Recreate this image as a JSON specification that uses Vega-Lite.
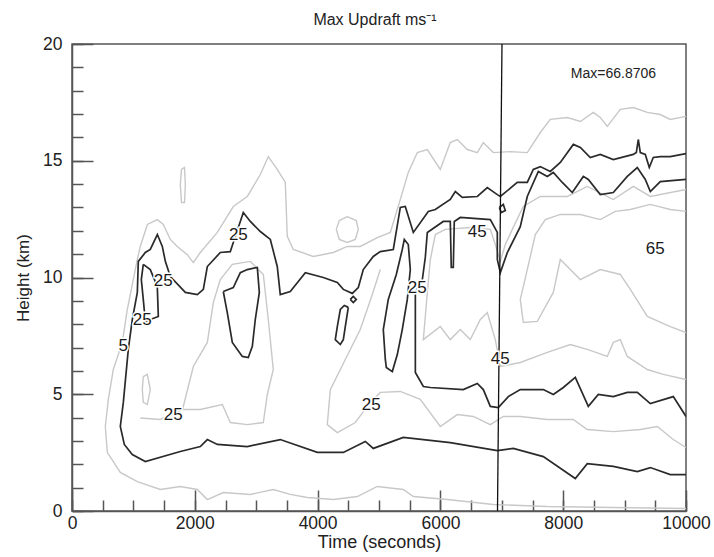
{
  "$schema": "https://vega.github.io/schema/vega-lite/v6.json",
  "width": 614,
  "height": 467,
  "autosize": {"type": "none"},
  "padding": {"left": 72, "top": 44, "right": 28, "bottom": 46},
  "background": "white",
  "title": {"text": "Max Updraft ms⁻¹", "fontSize": 16, "fontWeight": "normal", "font": "Liberation Sans", "color": "#222", "offset": 7, "dx": -4},
  "resolve": {"axis": {"x": "independent", "y": "independent"}},
  "config": {
    "view": {"stroke": "#555", "strokeWidth": 1.5},
    "axis": {"domainColor": "#555", "domainWidth": 1.5, "tickColor": "#555", "tickWidth": 1.5, "labelFont": "Liberation Sans", "titleFont": "Liberation Sans", "labelColor": "#222", "titleColor": "#222", "labelFontSize": 17.5, "titleFontSize": 17, "titleFontWeight": "normal", "grid": false}
  },
  "datasets": {
    "lines": [
      {"id":"c5","k":"b","o":1,"t":10000,"h":15.31},{"id":"c5","k":"b","o":2,"t":9744,"h":15.18},{"id":"c5","k":"b","o":3,"t":9581,"h":15.18},{"id":"c5","k":"b","o":4,"t":9467,"h":15.14},{"id":"c5","k":"b","o":5,"t":9402,"h":14.71},{"id":"c5","k":"b","o":6,"t":9337,"h":15.27},{"id":"c5","k":"b","o":7,"t":9256,"h":15.35},{"id":"c5","k":"b","o":8,"t":9223,"h":15.91},{"id":"c5","k":"b","o":9,"t":9191,"h":15.35},{"id":"c5","k":"b","o":10,"t":9142,"h":15.27},
      {"id":"c5","k":"b","o":11,"t":8816,"h":15.05},{"id":"c5","k":"b","o":12,"t":8604,"h":15.27},{"id":"c5","k":"b","o":13,"t":8441,"h":15.14},{"id":"c5","k":"b","o":14,"t":8279,"h":15.57},{"id":"c5","k":"b","o":15,"t":8165,"h":15.70},{"id":"c5","k":"b","o":16,"t":7953,"h":14.93},{"id":"c5","k":"b","o":17,"t":7790,"h":14.54},{"id":"c5","k":"b","o":18,"t":7627,"h":14.75},{"id":"c5","k":"b","o":19,"t":7513,"h":14.63},{"id":"c5","k":"b","o":20,"t":7415,"h":14.07},
      {"id":"c5","k":"b","o":21,"t":7252,"h":14.07},{"id":"c5","k":"b","o":22,"t":6976,"h":13.47},{"id":"c5","k":"b","o":23,"t":6927,"h":13.55},{"id":"c5","k":"b","o":24,"t":6764,"h":13.85},{"id":"c5","k":"b","o":25,"t":6601,"h":13.47},{"id":"c5","k":"b","o":26,"t":6357,"h":13.43},{"id":"c5","k":"b","o":27,"t":6243,"h":13.68},{"id":"c5","k":"b","o":28,"t":6161,"h":13.34},{"id":"c5","k":"b","o":29,"t":5917,"h":12.91},{"id":"c5","k":"b","o":30,"t":5803,"h":12.83},
      {"id":"c5","k":"b","o":31,"t":5559,"h":11.93},{"id":"c5","k":"b","o":32,"t":5428,"h":13.04},{"id":"c5","k":"b","o":33,"t":5347,"h":13.00},{"id":"c5","k":"b","o":34,"t":5233,"h":11.20},{"id":"c5","k":"b","o":35,"t":5021,"h":11.11},{"id":"c5","k":"b","o":36,"t":4907,"h":10.90},{"id":"c5","k":"b","o":37,"t":4744,"h":10.34},{"id":"c5","k":"b","o":38,"t":4663,"h":9.57},{"id":"c5","k":"b","o":39,"t":4565,"h":9.32},{"id":"c5","k":"b","o":40,"t":4419,"h":9.49},
      {"id":"c5","k":"b","o":41,"t":4321,"h":9.79},{"id":"c5","k":"b","o":42,"t":4093,"h":10.00},{"id":"c5","k":"b","o":43,"t":3800,"h":10.21},{"id":"c5","k":"b","o":44,"t":3555,"h":9.40},{"id":"c5","k":"b","o":45,"t":3392,"h":9.27},{"id":"c5","k":"b","o":46,"t":3343,"h":10.47},{"id":"c5","k":"b","o":47,"t":3230,"h":11.63},{"id":"c5","k":"b","o":48,"t":3067,"h":11.97},{"id":"c5","k":"b","o":49,"t":2904,"h":12.40},{"id":"c5","k":"b","o":50,"t":2790,"h":12.78},
      {"id":"c5","k":"b","o":51,"t":2709,"h":12.14},{"id":"c5","k":"b","o":52,"t":2627,"h":11.50},{"id":"c5","k":"b","o":53,"t":2578,"h":11.11},{"id":"c5","k":"b","o":54,"t":2415,"h":11.07},{"id":"c5","k":"b","o":55,"t":2204,"h":10.47},{"id":"c5","k":"b","o":56,"t":2139,"h":9.49},{"id":"c5","k":"b","o":57,"t":2041,"h":9.27},{"id":"c5","k":"b","o":58,"t":1846,"h":9.36},{"id":"c5","k":"b","o":59,"t":1601,"h":10.04},{"id":"c5","k":"b","o":60,"t":1520,"h":10.69},
      {"id":"c5","k":"b","o":61,"t":1471,"h":11.33},{"id":"c5","k":"b","o":62,"t":1390,"h":11.84},{"id":"c5","k":"b","o":63,"t":1275,"h":11.20},{"id":"c5","k":"b","o":64,"t":1194,"h":11.07},{"id":"c5","k":"b","o":65,"t":1080,"h":10.69},{"id":"c5","k":"b","o":66,"t":1064,"h":9.36},{"id":"c5","k":"b","o":67,"t":982,"h":8.20},{"id":"c5","k":"b","o":68,"t":917,"h":6.92},{"id":"c5","k":"b","o":69,"t":836,"h":4.65},{"id":"c5","k":"b","o":70,"t":787,"h":3.62},
      {"id":"c5","k":"b","o":71,"t":852,"h":2.85},{"id":"c5","k":"b","o":72,"t":982,"h":2.42},{"id":"c5","k":"b","o":73,"t":1194,"h":2.12},{"id":"c5","k":"b","o":74,"t":1764,"h":2.55},{"id":"c5","k":"b","o":75,"t":2090,"h":2.76},{"id":"c5","k":"b","o":76,"t":2204,"h":3.06},{"id":"c5","k":"b","o":77,"t":2367,"h":2.85},{"id":"c5","k":"b","o":78,"t":2855,"h":2.76},{"id":"c5","k":"b","o":79,"t":3392,"h":3.06},{"id":"c5","k":"b","o":80,"t":3995,"h":2.51},
      {"id":"c5","k":"b","o":81,"t":4419,"h":2.51},{"id":"c5","k":"b","o":82,"t":4777,"h":2.98},{"id":"c5","k":"b","o":83,"t":4907,"h":2.68},{"id":"c5","k":"b","o":84,"t":5396,"h":3.15},{"id":"c5","k":"b","o":85,"t":6161,"h":2.93},{"id":"c5","k":"b","o":86,"t":6927,"h":2.59},{"id":"c5","k":"b","o":87,"t":7187,"h":2.68},{"id":"c5","k":"b","o":88,"t":7676,"h":2.33},{"id":"c5","k":"b","o":89,"t":8197,"h":1.39},{"id":"c5","k":"b","o":90,"t":8392,"h":2.03},
      {"id":"c5","k":"b","o":91,"t":8816,"h":1.91},{"id":"c5","k":"b","o":92,"t":9207,"h":1.69},{"id":"c5","k":"b","o":93,"t":9419,"h":1.86},{"id":"c5","k":"b","o":94,"t":9744,"h":1.56},{"id":"c5","k":"b","o":95,"t":10000,"h":1.56},

      {"id":"c45","k":"b","o":1,"t":10000,"h":14.20},{"id":"c45","k":"b","o":2,"t":9581,"h":14.11},{"id":"c45","k":"b","o":3,"t":9419,"h":13.68},{"id":"c45","k":"b","o":4,"t":9337,"h":14.20},{"id":"c45","k":"b","o":5,"t":9207,"h":14.71},{"id":"c45","k":"b","o":6,"t":9044,"h":14.33},{"id":"c45","k":"b","o":7,"t":8816,"h":13.64},{"id":"c45","k":"b","o":8,"t":8604,"h":13.55},{"id":"c45","k":"b","o":9,"t":8409,"h":14.20},{"id":"c45","k":"b","o":10,"t":8328,"h":14.33},
      {"id":"c45","k":"b","o":11,"t":8148,"h":13.64},{"id":"c45","k":"b","o":12,"t":7985,"h":14.07},{"id":"c45","k":"b","o":13,"t":7839,"h":14.50},{"id":"c45","k":"b","o":14,"t":7741,"h":14.33},{"id":"c45","k":"b","o":15,"t":7595,"h":14.54},{"id":"c45","k":"b","o":16,"t":7415,"h":13.47},{"id":"c45","k":"b","o":17,"t":7301,"h":12.18},{"id":"c45","k":"b","o":18,"t":7090,"h":11.07},{"id":"c45","k":"b","o":19,"t":6976,"h":10.21},{"id":"c45","k":"b","o":20,"t":6927,"h":10.77},
      {"id":"c45","k":"b","o":21,"t":6927,"h":11.93},{"id":"c45","k":"b","o":22,"t":6813,"h":12.48},{"id":"c45","k":"b","o":23,"t":6324,"h":12.57},{"id":"c45","k":"b","o":24,"t":6226,"h":12.40},{"id":"c45","k":"b","o":25,"t":6210,"h":10.43},{"id":"c45","k":"b","o":26,"t":6177,"h":10.43},{"id":"c45","k":"b","o":27,"t":6161,"h":12.40},{"id":"c45","k":"b","o":28,"t":6047,"h":12.40},{"id":"c45","k":"b","o":29,"t":5787,"h":11.93},{"id":"c45","k":"b","o":30,"t":5754,"h":10.86},
      {"id":"c45","k":"b","o":31,"t":5706,"h":9.91},{"id":"c45","k":"b","o":32,"t":5592,"h":9.36},{"id":"c45","k":"b","o":33,"t":5592,"h":5.93},{"id":"c45","k":"b","o":34,"t":5722,"h":5.33},{"id":"c45","k":"b","o":35,"t":5836,"h":5.29},{"id":"c45","k":"b","o":36,"t":6373,"h":5.20},{"id":"c45","k":"b","o":37,"t":6601,"h":5.46},{"id":"c45","k":"b","o":38,"t":6699,"h":5.20},{"id":"c45","k":"b","o":39,"t":6813,"h":4.48},{"id":"c45","k":"b","o":40,"t":6943,"h":4.43},
      {"id":"c45","k":"b","o":41,"t":7106,"h":4.90},{"id":"c45","k":"b","o":42,"t":7301,"h":5.20},{"id":"c45","k":"b","o":43,"t":7676,"h":5.20},{"id":"c45","k":"b","o":44,"t":7839,"h":4.99},{"id":"c45","k":"b","o":45,"t":8002,"h":5.29},{"id":"c45","k":"b","o":46,"t":8197,"h":5.72},{"id":"c45","k":"b","o":47,"t":8409,"h":4.48},{"id":"c45","k":"b","o":48,"t":8572,"h":4.99},{"id":"c45","k":"b","o":49,"t":8816,"h":4.90},{"id":"c45","k":"b","o":50,"t":9044,"h":5.08},
      {"id":"c45","k":"b","o":51,"t":9207,"h":5.08},{"id":"c45","k":"b","o":52,"t":9419,"h":4.60},{"id":"c45","k":"b","o":53,"t":9793,"h":4.90},{"id":"c45","k":"b","o":54,"t":10000,"h":4.05},

      {"id":"blob","k":"b","o":1,"t":2464,"h":9.40},{"id":"blob","k":"b","o":2,"t":2627,"h":9.57},{"id":"blob","k":"b","o":3,"t":2741,"h":10.21},{"id":"blob","k":"b","o":4,"t":2855,"h":10.34},{"id":"blob","k":"b","o":5,"t":3018,"h":10.43},{"id":"blob","k":"b","o":6,"t":3051,"h":9.36},{"id":"blob","k":"b","o":7,"t":2985,"h":8.20},{"id":"blob","k":"b","o":8,"t":2937,"h":7.05},{"id":"blob","k":"b","o":9,"t":2871,"h":6.57},{"id":"blob","k":"b","o":10,"t":2774,"h":6.62},{"id":"blob","k":"b","o":11,"t":2611,"h":7.22},{"id":"blob","k":"b","o":12,"t":2529,"h":8.50},{"id":"blob","k":"b","o":13,"t":2464,"h":9.40},

      {"id":"lb","k":"b","o":1,"t":1161,"h":10.56},{"id":"lb","k":"b","o":2,"t":1275,"h":10.34},{"id":"lb","k":"b","o":3,"t":1389,"h":9.62},{"id":"lb","k":"b","o":4,"t":1406,"h":8.33},{"id":"lb","k":"b","o":5,"t":1275,"h":8.20},{"id":"lb","k":"b","o":6,"t":1194,"h":8.12},{"id":"lb","k":"b","o":7,"t":1161,"h":9.06},{"id":"lb","k":"b","o":8,"t":1129,"h":9.91},{"id":"lb","k":"b","o":9,"t":1161,"h":10.56},

      {"id":"lc","k":"b","o":1,"t":4500,"h":8.72},{"id":"lc","k":"b","o":2,"t":4451,"h":7.90},{"id":"lc","k":"b","o":3,"t":4419,"h":7.34},{"id":"lc","k":"b","o":4,"t":4370,"h":7.13},{"id":"lc","k":"b","o":5,"t":4288,"h":7.34},{"id":"lc","k":"b","o":6,"t":4321,"h":7.90},{"id":"lc","k":"b","o":7,"t":4370,"h":8.63},{"id":"lc","k":"b","o":8,"t":4435,"h":8.80},{"id":"lc","k":"b","o":9,"t":4500,"h":8.72},

      {"id":"cir","k":"b","o":1,"t":4532,"h":9.06},{"id":"cir","k":"b","o":2,"t":4581,"h":9.19},{"id":"cir","k":"b","o":3,"t":4630,"h":9.06},{"id":"cir","k":"b","o":4,"t":4581,"h":8.93},{"id":"cir","k":"b","o":5,"t":4532,"h":9.06},

      {"id":"ld","k":"b","o":1,"t":5103,"h":6.49},{"id":"ld","k":"b","o":2,"t":5070,"h":7.77},{"id":"ld","k":"b","o":3,"t":5151,"h":9.06},{"id":"ld","k":"b","o":4,"t":5282,"h":10.13},{"id":"ld","k":"b","o":5,"t":5379,"h":11.20},{"id":"ld","k":"b","o":6,"t":5412,"h":11.63},{"id":"ld","k":"b","o":7,"t":5477,"h":11.41},{"id":"ld","k":"b","o":8,"t":5510,"h":10.34},{"id":"ld","k":"b","o":9,"t":5461,"h":9.06},{"id":"ld","k":"b","o":10,"t":5379,"h":7.77},{"id":"ld","k":"b","o":11,"t":5298,"h":6.70},{"id":"ld","k":"b","o":12,"t":5217,"h":5.97},{"id":"ld","k":"b","o":13,"t":5119,"h":6.15},{"id":"ld","k":"b","o":14,"t":5103,"h":6.49},

      {"id":"le","k":"b","o":1,"t":6960,"h":13.00},{"id":"le","k":"b","o":2,"t":7025,"h":13.13},{"id":"le","k":"b","o":3,"t":7057,"h":12.87},{"id":"le","k":"b","o":4,"t":6992,"h":12.78},{"id":"le","k":"b","o":5,"t":6960,"h":13.00},

      {"id":"g1","k":"g","o":1,"t":10000,"h":16.90},{"id":"g1","k":"g","o":2,"t":9744,"h":16.77},{"id":"g1","k":"g","o":3,"t":9581,"h":16.98},{"id":"g1","k":"g","o":4,"t":9370,"h":17.07},{"id":"g1","k":"g","o":5,"t":9142,"h":17.28},{"id":"g1","k":"g","o":6,"t":8930,"h":17.20},{"id":"g1","k":"g","o":7,"t":8718,"h":16.47},{"id":"g1","k":"g","o":8,"t":8604,"h":16.85},{"id":"g1","k":"g","o":9,"t":8490,"h":17.07},{"id":"g1","k":"g","o":10,"t":8279,"h":16.68},
      {"id":"g1","k":"g","o":11,"t":8067,"h":16.85},{"id":"g1","k":"g","o":12,"t":7790,"h":16.77},{"id":"g1","k":"g","o":13,"t":7627,"h":16.21},{"id":"g1","k":"g","o":14,"t":7415,"h":15.35},{"id":"g1","k":"g","o":15,"t":7139,"h":15.39},{"id":"g1","k":"g","o":16,"t":6862,"h":15.35},{"id":"g1","k":"g","o":17,"t":6699,"h":15.78},{"id":"g1","k":"g","o":18,"t":6601,"h":15.35},{"id":"g1","k":"g","o":19,"t":6438,"h":15.48},{"id":"g1","k":"g","o":20,"t":6275,"h":15.91},
      {"id":"g1","k":"g","o":21,"t":6161,"h":15.78},{"id":"g1","k":"g","o":22,"t":5998,"h":14.63},{"id":"g1","k":"g","o":23,"t":5787,"h":15.48},{"id":"g1","k":"g","o":24,"t":5624,"h":15.35},{"id":"g1","k":"g","o":25,"t":5477,"h":14.50},{"id":"g1","k":"g","o":26,"t":5347,"h":13.34},{"id":"g1","k":"g","o":27,"t":5184,"h":11.93},{"id":"g1","k":"g","o":28,"t":4972,"h":11.71},{"id":"g1","k":"g","o":29,"t":4695,"h":11.33},{"id":"g1","k":"g","o":30,"t":4484,"h":11.33},
      {"id":"g1","k":"g","o":31,"t":4256,"h":11.07},{"id":"g1","k":"g","o":32,"t":3930,"h":10.90},{"id":"g1","k":"g","o":33,"t":3604,"h":11.20},{"id":"g1","k":"g","o":34,"t":3506,"h":11.76},{"id":"g1","k":"g","o":35,"t":3474,"h":14.07},{"id":"g1","k":"g","o":36,"t":3343,"h":14.63},{"id":"g1","k":"g","o":37,"t":3197,"h":15.18},{"id":"g1","k":"g","o":38,"t":3067,"h":14.41},{"id":"g1","k":"g","o":39,"t":2855,"h":13.47},{"id":"g1","k":"g","o":40,"t":2627,"h":13.04},
      {"id":"g1","k":"g","o":41,"t":2367,"h":11.93},{"id":"g1","k":"g","o":42,"t":2090,"h":11.07},{"id":"g1","k":"g","o":43,"t":1976,"h":10.64},{"id":"g1","k":"g","o":44,"t":1878,"h":10.98},{"id":"g1","k":"g","o":45,"t":1715,"h":11.33},{"id":"g1","k":"g","o":46,"t":1601,"h":11.63},{"id":"g1","k":"g","o":47,"t":1487,"h":12.27},{"id":"g1","k":"g","o":48,"t":1390,"h":12.48},{"id":"g1","k":"g","o":49,"t":1227,"h":12.27},{"id":"g1","k":"g","o":50,"t":1112,"h":11.33},
      {"id":"g1","k":"g","o":51,"t":1064,"h":10.77},{"id":"g1","k":"g","o":52,"t":998,"h":9.91},{"id":"g1","k":"g","o":53,"t":901,"h":8.63},{"id":"g1","k":"g","o":54,"t":819,"h":7.22},{"id":"g1","k":"g","o":55,"t":673,"h":6.06},{"id":"g1","k":"g","o":56,"t":592,"h":4.78},{"id":"g1","k":"g","o":57,"t":543,"h":3.62},{"id":"g1","k":"g","o":58,"t":575,"h":2.51},{"id":"g1","k":"g","o":59,"t":787,"h":1.65},{"id":"g1","k":"g","o":60,"t":1064,"h":1.26},
      {"id":"g1","k":"g","o":61,"t":1438,"h":0.92},{"id":"g1","k":"g","o":62,"t":1764,"h":1.05},{"id":"g1","k":"g","o":63,"t":2041,"h":0.92},{"id":"g1","k":"g","o":64,"t":2204,"h":0.49},{"id":"g1","k":"g","o":65,"t":2464,"h":0.79},{"id":"g1","k":"g","o":66,"t":2904,"h":0.71},{"id":"g1","k":"g","o":67,"t":3278,"h":0.92},{"id":"g1","k":"g","o":68,"t":3555,"h":0.71},{"id":"g1","k":"g","o":69,"t":3832,"h":0.58},{"id":"g1","k":"g","o":70,"t":4256,"h":0.49},
      {"id":"g1","k":"g","o":71,"t":4647,"h":0.62},{"id":"g1","k":"g","o":72,"t":4972,"h":1.05},{"id":"g1","k":"g","o":73,"t":5396,"h":0.92},{"id":"g1","k":"g","o":74,"t":5559,"h":0.62},{"id":"g1","k":"g","o":75,"t":6112,"h":0.49},{"id":"g1","k":"g","o":76,"t":6862,"h":0.28},{"id":"g1","k":"g","o":77,"t":7741,"h":0.19},{"id":"g1","k":"g","o":78,"t":8816,"h":0.15},{"id":"g1","k":"g","o":79,"t":10000,"h":0.11},

      {"id":"l1","k":"g","o":1,"t":1783,"h":14.63},{"id":"l1","k":"g","o":2,"t":1832,"h":14.71},{"id":"l1","k":"g","o":3,"t":1846,"h":13.98},{"id":"l1","k":"g","o":4,"t":1832,"h":13.21},{"id":"l1","k":"g","o":5,"t":1783,"h":13.21},{"id":"l1","k":"g","o":6,"t":1764,"h":13.98},{"id":"l1","k":"g","o":7,"t":1783,"h":14.63},

      {"id":"l2","k":"g","o":1,"t":4484,"h":12.61},{"id":"l2","k":"g","o":2,"t":4630,"h":12.44},{"id":"l2","k":"g","o":3,"t":4663,"h":12.06},{"id":"l2","k":"g","o":4,"t":4614,"h":11.63},{"id":"l2","k":"g","o":5,"t":4484,"h":11.50},{"id":"l2","k":"g","o":6,"t":4353,"h":11.63},{"id":"l2","k":"g","o":7,"t":4305,"h":12.06},{"id":"l2","k":"g","o":8,"t":4353,"h":12.44},{"id":"l2","k":"g","o":9,"t":4484,"h":12.61},

      {"id":"g3","k":"g","o":1,"t":10000,"h":5.63},{"id":"g3","k":"g","o":2,"t":9630,"h":5.85},{"id":"g3","k":"g","o":3,"t":9370,"h":6.06},{"id":"g3","k":"g","o":4,"t":9044,"h":6.62},{"id":"g3","k":"g","o":5,"t":8930,"h":7.34},{"id":"g3","k":"g","o":6,"t":8816,"h":7.22},{"id":"g3","k":"g","o":7,"t":8718,"h":6.62},{"id":"g3","k":"g","o":8,"t":8392,"h":6.92},{"id":"g3","k":"g","o":9,"t":8116,"h":7.13},{"id":"g3","k":"g","o":10,"t":7741,"h":6.79},
      {"id":"g3","k":"g","o":11,"t":7301,"h":6.36},{"id":"g3","k":"g","o":12,"t":6976,"h":6.19},{"id":"g3","k":"g","o":13,"t":6894,"h":7.34},{"id":"g3","k":"g","o":14,"t":6764,"h":8.50},{"id":"g3","k":"g","o":15,"t":6650,"h":8.20},{"id":"g3","k":"g","o":16,"t":6487,"h":7.34},{"id":"g3","k":"g","o":17,"t":6324,"h":7.77},{"id":"g3","k":"g","o":18,"t":6161,"h":7.34},{"id":"g3","k":"g","o":19,"t":5998,"h":7.90},{"id":"g3","k":"g","o":20,"t":5722,"h":7.34},
      {"id":"g3","k":"g","o":21,"t":5787,"h":9.36},{"id":"g3","k":"g","o":22,"t":5836,"h":10.77},{"id":"g3","k":"g","o":23,"t":5917,"h":11.84},{"id":"g3","k":"g","o":24,"t":6080,"h":12.06},{"id":"g3","k":"g","o":25,"t":6487,"h":12.14},{"id":"g3","k":"g","o":26,"t":6813,"h":12.06},{"id":"g3","k":"g","o":27,"t":6894,"h":11.41},{"id":"g3","k":"g","o":28,"t":6976,"h":10.69},{"id":"g3","k":"g","o":29,"t":7057,"h":11.41},{"id":"g3","k":"g","o":30,"t":7171,"h":12.06},
      {"id":"g3","k":"g","o":31,"t":7350,"h":13.04},{"id":"g3","k":"g","o":32,"t":7627,"h":13.47},{"id":"g3","k":"g","o":33,"t":7839,"h":13.47},{"id":"g3","k":"g","o":34,"t":8067,"h":13.47},{"id":"g3","k":"g","o":35,"t":8392,"h":13.90},{"id":"g3","k":"g","o":36,"t":8816,"h":13.34},{"id":"g3","k":"g","o":37,"t":9142,"h":13.90},{"id":"g3","k":"g","o":38,"t":9419,"h":13.47},{"id":"g3","k":"g","o":39,"t":10000,"h":13.77},

      {"id":"g5","k":"g","o":1,"t":10000,"h":2.72},{"id":"g5","k":"g","o":2,"t":9793,"h":3.06},{"id":"g5","k":"g","o":3,"t":9532,"h":3.62},{"id":"g5","k":"g","o":4,"t":9256,"h":3.49},{"id":"g5","k":"g","o":5,"t":8816,"h":3.40},{"id":"g5","k":"g","o":6,"t":8392,"h":3.49},{"id":"g5","k":"g","o":7,"t":8165,"h":3.92},{"id":"g5","k":"g","o":8,"t":7741,"h":3.92},{"id":"g5","k":"g","o":9,"t":7301,"h":4.05},{"id":"g5","k":"g","o":10,"t":7025,"h":4.05},
      {"id":"g5","k":"g","o":11,"t":6813,"h":3.70},{"id":"g5","k":"g","o":12,"t":6536,"h":4.05},{"id":"g5","k":"g","o":13,"t":6275,"h":4.13},{"id":"g5","k":"g","o":14,"t":5998,"h":3.62},{"id":"g5","k":"g","o":15,"t":5673,"h":4.78},{"id":"g5","k":"g","o":16,"t":5347,"h":5.12},{"id":"g5","k":"g","o":17,"t":5021,"h":5.08},{"id":"g5","k":"g","o":18,"t":4858,"h":4.65},{"id":"g5","k":"g","o":19,"t":4614,"h":3.79},{"id":"g5","k":"g","o":20,"t":4321,"h":3.36},
      {"id":"g5","k":"g","o":21,"t":4158,"h":3.70},{"id":"g5","k":"g","o":22,"t":4207,"h":5.20},{"id":"g5","k":"g","o":23,"t":4451,"h":6.49},{"id":"g5","k":"g","o":24,"t":4695,"h":7.77},{"id":"g5","k":"g","o":25,"t":4891,"h":9.27},{"id":"g5","k":"g","o":26,"t":5021,"h":10.34},

      {"id":"g6","k":"g","o":1,"t":1112,"h":3.98},{"id":"g6","k":"g","o":2,"t":1438,"h":3.92},{"id":"g6","k":"g","o":3,"t":1800,"h":4.35},{"id":"g6","k":"g","o":4,"t":1976,"h":6.19},{"id":"g6","k":"g","o":5,"t":2204,"h":7.22},{"id":"g6","k":"g","o":6,"t":2302,"h":8.93},{"id":"g6","k":"g","o":7,"t":2415,"h":9.91},{"id":"g6","k":"g","o":8,"t":2611,"h":10.56},{"id":"g6","k":"g","o":9,"t":2904,"h":10.69},{"id":"g6","k":"g","o":10,"t":3116,"h":10.13},
      {"id":"g6","k":"g","o":11,"t":3197,"h":8.20},{"id":"g6","k":"g","o":12,"t":3278,"h":6.06},{"id":"g6","k":"g","o":13,"t":3181,"h":4.99},{"id":"g6","k":"g","o":14,"t":3116,"h":3.79},{"id":"g6","k":"g","o":15,"t":2855,"h":3.70},{"id":"g6","k":"g","o":16,"t":2578,"h":3.79},{"id":"g6","k":"g","o":17,"t":2448,"h":4.56},{"id":"g6","k":"g","o":18,"t":2090,"h":4.35},{"id":"g6","k":"g","o":19,"t":1800,"h":4.35},

      {"id":"l3","k":"g","o":1,"t":1161,"h":5.76},{"id":"l3","k":"g","o":2,"t":1227,"h":5.85},{"id":"l3","k":"g","o":3,"t":1275,"h":5.20},{"id":"l3","k":"g","o":4,"t":1227,"h":4.56},{"id":"l3","k":"g","o":5,"t":1161,"h":4.65},{"id":"l3","k":"g","o":6,"t":1145,"h":5.20},{"id":"l3","k":"g","o":7,"t":1161,"h":5.76},

      {"id":"g7","k":"g","o":1,"t":10000,"h":7.64},{"id":"g7","k":"g","o":2,"t":9744,"h":7.90},{"id":"g7","k":"g","o":3,"t":9370,"h":8.33},{"id":"g7","k":"g","o":4,"t":9093,"h":9.49},{"id":"g7","k":"g","o":5,"t":8930,"h":10.13},{"id":"g7","k":"g","o":6,"t":8604,"h":10.34},{"id":"g7","k":"g","o":7,"t":8279,"h":9.91},{"id":"g7","k":"g","o":8,"t":7953,"h":10.77},{"id":"g7","k":"g","o":9,"t":7839,"h":9.36},{"id":"g7","k":"g","o":10,"t":7578,"h":8.12},
      {"id":"g7","k":"g","o":11,"t":7350,"h":8.07},{"id":"g7","k":"g","o":12,"t":7301,"h":9.06},{"id":"g7","k":"g","o":13,"t":7415,"h":10.34},{"id":"g7","k":"g","o":14,"t":7546,"h":11.84},{"id":"g7","k":"g","o":15,"t":7709,"h":12.48},{"id":"g7","k":"g","o":16,"t":7953,"h":12.70},{"id":"g7","k":"g","o":17,"t":8279,"h":12.70},{"id":"g7","k":"g","o":18,"t":8604,"h":12.48},{"id":"g7","k":"g","o":19,"t":8848,"h":12.83},{"id":"g7","k":"g","o":20,"t":9093,"h":12.91},
      {"id":"g7","k":"g","o":21,"t":9419,"h":13.13},{"id":"g7","k":"g","o":22,"t":9744,"h":12.91},{"id":"g7","k":"g","o":23,"t":10000,"h":12.83},

      {"id":"v","k":"v","o":1,"t":7003,"h":20},{"id":"v","k":"v","o":2,"t":6930,"h":0}
    ],
    "labels": [
      {"t":836,"h":7.07,"txt":"5"},
      {"t":1145,"h":8.20,"txt":"25"},
      {"t":1487,"h":9.83,"txt":"25"},
      {"t":2709,"h":11.84,"txt":"25"},
      {"t":5624,"h":9.53,"txt":"25"},
      {"t":6601,"h":11.93,"txt":"45"},
      {"t":6976,"h":6.49,"txt":"45"},
      {"t":9499,"h":11.20,"txt":"65"},
      {"t":1650,"h":4.13,"txt":"25"},
      {"t":4874,"h":4.52,"txt":"25"}
    ],
    "maxlabel": [
      {"t":8818,"h":18.7,"txt":"Max=66.8706"}
    ]
  },
  "layer": [
    {
      "data": {"name": "lines"},
      "transform": [{"filter": "datum.k === 'g'"}],
      "mark": {"type": "line", "stroke": "#c8c8c8", "strokeWidth": 1.4, "clip": true},
      "encoding": {
        "x": {"field": "t", "type": "quantitative", "scale": {"domain": [0, 10000], "nice": false, "zero": false},
              "axis": {"title": "Time (seconds)", "titleFontSize": 18, "orient": "bottom", "format": "d", "values": [0,500,1000,1500,2000,2500,3000,3500,4000,4500,5000,5500,6000,6500,7000,7500,8000,8500,9000,9500,10000],
                       "labelExpr": "datum.value % 2000 === 0 ? datum.label : ''", "tickSize": -11, "labelPadding": 14, "titlePadding": 2, "labelFlush": false, "labelOverlap": false}},
        "y": {"field": "h", "type": "quantitative", "scale": {"domain": [0, 20], "nice": false, "zero": false},
              "axis": {"title": "Height (km)", "orient": "left", "values": [0,1,2,3,4,5,6,7,8,9,10,11,12,13,14,15,16,17,18,19,20],
                       "labelExpr": "datum.value % 5 === 0 ? datum.label : ''", "tickSize": -11, "labelPadding": 21, "titlePadding": 10, "labelFlush": false, "labelOverlap": false}},
        "detail": {"field": "id"},
        "order": {"field": "o"}
      }
    },
    {
      "data": {"name": "lines"},
      "transform": [{"filter": "datum.k === 'b'"}],
      "mark": {"type": "line", "stroke": "#2a2a2a", "strokeWidth": 1.7, "clip": true},
      "encoding": {
        "x": {"field": "t", "type": "quantitative",
              "axis": {"title": null, "orient": "bottom", "values": [0,2000,4000,6000,8000,10000], "tickSize": -21, "labels": false, "domain": false}},
        "y": {"field": "h", "type": "quantitative",
              "axis": {"title": null, "orient": "left", "values": [0,5,10,15,20], "tickSize": -21, "labels": false, "domain": false}},
        "detail": {"field": "id"},
        "order": {"field": "o"}
      }
    },
    {
      "data": {"name": "lines"},
      "transform": [{"filter": "datum.k === 'v'"}],
      "mark": {"type": "line", "stroke": "#111", "strokeWidth": 1.3},
      "encoding": {
        "x": {"field": "t", "type": "quantitative", "axis": null},
        "y": {"field": "h", "type": "quantitative", "axis": null},
        "detail": {"field": "id"},
        "order": {"field": "o"}
      }
    },
    {
      "data": {"name": "labels"},
      "mark": {"type": "text", "font": "Liberation Sans", "fontSize": 17, "fill": "white", "stroke": "white", "strokeWidth": 3, "align": "center", "baseline": "middle"},
      "encoding": {
        "x": {"field": "t", "type": "quantitative", "axis": null},
        "y": {"field": "h", "type": "quantitative", "axis": null},
        "text": {"field": "txt"}
      }
    },
    {
      "data": {"name": "labels"},
      "mark": {"type": "text", "font": "Liberation Sans", "fontSize": 17, "color": "#1a1a1a", "align": "center", "baseline": "middle"},
      "encoding": {
        "x": {"field": "t", "type": "quantitative", "axis": null},
        "y": {"field": "h", "type": "quantitative", "axis": null},
        "text": {"field": "txt"}
      }
    },
    {
      "data": {"name": "maxlabel"},
      "mark": {"type": "text", "font": "Liberation Sans", "fontSize": 14, "color": "#222", "align": "center", "baseline": "middle"},
      "encoding": {
        "x": {"field": "t", "type": "quantitative", "axis": null},
        "y": {"field": "h", "type": "quantitative", "axis": null},
        "text": {"field": "txt"}
      }
    }
  ]
}
